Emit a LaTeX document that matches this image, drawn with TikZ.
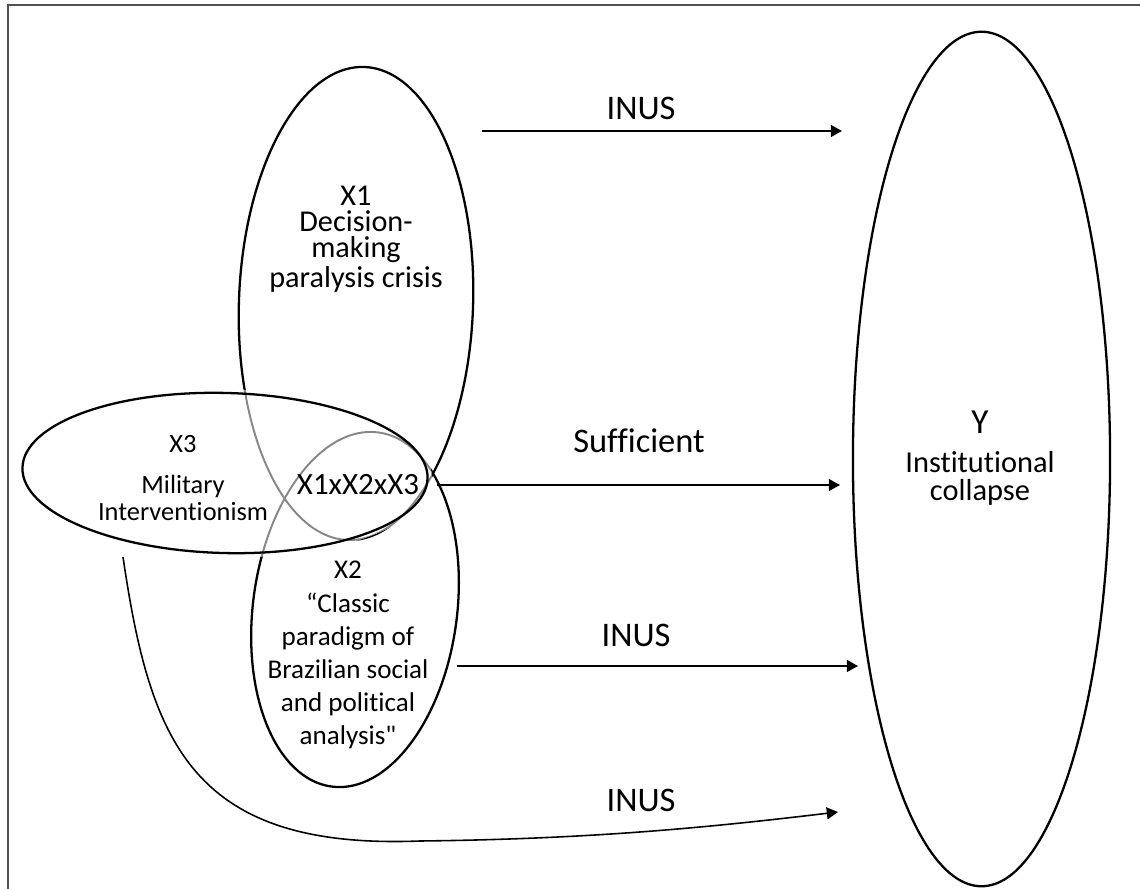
\documentclass[tikz,border=0pt]{standalone}
\usepackage{fontspec}
\setmainfont{Carlito}[Ligatures={TeXOff,NoCommon}]
\usetikzlibrary{arrows.meta, positioning, shapes.geometric}
\definecolor{framegray}{RGB}{80,80,80}
\definecolor{overlapgray}{RGB}{135,135,135}

\begin{document}
\begin{tikzpicture}[
  x=0.01cm, y=0.01cm,
  oval/.style={ellipse, draw=black, line width=0.65pt, inner sep=0pt},
  faded/.style={oval, draw=overlapgray, line width=0.55pt},
  body/.style={align=center, inner sep=0pt},
  lbl/.style={inner sep=0pt, font=\fontsize{9.8}{11}\selectfont},
  arrow/.style={-{Triangle[length=3.2pt, width=3.4pt]}, line width=0.45pt}
]
  % canvas and frame
  \fill[white] (0,0) rectangle (1140,-889);
  \useasboundingbox (0,0) rectangle (1140,-889);
  \draw[framegray, line width=0.6pt] (8,-889) -- (8,-5) -- (1140,-5);

  % X1 and X2, black outside X3
  \begin{scope}[even odd rule]
    \clip (-10,10) rectangle (1150,-900)
      (225,-473) circle [x radius=207, y radius=84, rotate=-1.5];
    \node[oval, minimum width=2.34cm, minimum height=4.73cm, rotate=-2] (x1) at (356,-303.5) {};
    \node[oval, minimum width=2.04cm, minimum height=3.57cm, rotate=-7.5] (x2) at (355,-609.5) {};
  \end{scope}

  % X1 and X2, grey inside X3
  \begin{scope}
    \clip (225,-473) circle [x radius=207, y radius=84, rotate=-1.5];
    \node[faded, minimum width=2.34cm, minimum height=4.73cm, rotate=-2] (x1in) at (356,-303.5) {};
    \node[faded, minimum width=2.04cm, minimum height=3.57cm, rotate=-7.5] (x2in) at (355,-609.5) {};
  \end{scope}

  % X3 and Y
  \node[oval, minimum width=4.05cm, minimum height=1.6cm, rotate=-1.5] (x3) at (225,-473) {};
  \node[oval, minimum width=2.57cm, minimum height=8.54cm] (y) at (981.5,-459) {};

  % texts
  \node[body, font=\fontsize{8.6}{7.4}\selectfont] (x1txt) at (356,-239) {X1\\Decision-\\making\\paralysis crisis};
  \node[body, font=\fontsize{7.5}{7.7}\selectfont] (x3txt) at (183,-478) {X3\\[4pt]Military\\Interventionism};
  \node[body, font=\fontsize{8.8}{10}\selectfont] (x123) at (358,-485) {X1xX2xX3};
  \node[body, font=\fontsize{7.7}{9.4}\selectfont] (x2txt) at (348,-655) {X2\\“Classic\\paradigm of\\Brazilian social\\and political\\analysis"};
  \node[body, font=\fontsize{8.65}{8}\selectfont] (ytxt) at (980,-458) {{\fontsize{10}{10}\selectfont Y}\\[3pt]Institutional\\collapse};

  % arrows
  \coordinate (inus1s) at (482,-131);
  \coordinate (inus1e) at (842,-131);
  \coordinate (suffs) at (437,-485);
  \coordinate (suffe) at (840,-485);
  \coordinate (inus2s) at (457,-666);
  \coordinate (inus2e) at (858,-666);
  \coordinate (inus3s) at (123,-557);
  \coordinate (inus3e) at (838,-812);

  \draw[arrow] (inus1s) -- (inus1e);
  \draw[arrow] (suffs) -- (suffe);
  \draw[arrow] (inus2s) -- (inus2e);
  \draw[arrow] (inus3s) .. controls (150,-740) and (190,-850) .. (420,-841)
    .. controls (600,-839) and (720,-826) .. (inus3e);

  \node[lbl] (inus1) at (641,-108.5) {INUS};
  \node[lbl] (suff) at (639,-441) {Sufficient};
  \node[lbl] (inus2) at (636,-635) {INUS};
  \node[lbl] (inus3) at (641,-800) {INUS};
\end{tikzpicture}
\end{document}
